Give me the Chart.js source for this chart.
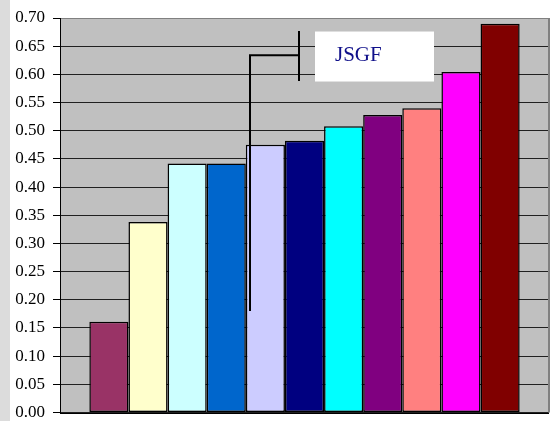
<!DOCTYPE html>
<html>
<head>
<meta charset="utf-8">
<script src="https://cdn.jsdelivr.net/npm/chart.js@4/dist/chart.umd.min.js"></script>
<style>
  html, body { margin: 0; padding: 0; background: #ffffff; }
  #wrap { position: relative; width: 551px; height: 421px; }
  #strip { position: absolute; left: 0; top: 0; width: 10px; height: 421px; background: #dcdcdc; }
  canvas { position: absolute; left: 0; top: 0; }
</style>
</head>
<body>
<div id="wrap">
  <div id="strip"></div>
  <canvas id="c" width="551" height="421"></canvas>
</div>
<script>
// One category, eleven series drawn side by side
const categories = [''];
const seriesNames = ['S1', 'S2', 'S3', 'S4', 'S5', 'S6', 'S7', 'S8', 'S9', 'S10', 'S11'];
const seriesValues = [0.161, 0.338, 0.442, 0.442, 0.475, 0.482, 0.508, 0.528, 0.540, 0.604, 0.690];
const seriesColors = ['#993366', '#FFFFCC', '#CCFFFF', '#0066CC', '#CCCCFF', '#000080',
                      '#00FFFF', '#800080', '#FF8080', '#FF00FF', '#800000'];
const yTicks = { min: 0, max: 0.70, step: 0.05 };
const calloutText = 'JSGF';

const SERIF = "'Liberation Serif', 'Times New Roman', serif";
Chart.defaults.font.family = SERIF;
Chart.defaults.font.size = 17;
Chart.defaults.color = '#000000';

const datasets = seriesNames.map((name, i) => ({
  label: name,
  data: [seriesValues[i]],
  backgroundColor: seriesColors[i],
  borderColor: '#000000',
  borderWidth: 1.5,
  borderSkipped: false,
  categoryPercentage: 11 / 12.5,
  barPercentage: 1.0
}));

// Grey plot area plus its frame
const plotBackground = {
  id: 'plotBackground',
  beforeDraw(chart) {
    const { ctx, chartArea: a } = chart;
    ctx.save();
    ctx.fillStyle = '#C0C0C0';
    ctx.fillRect(a.left, a.top, a.right - a.left, a.bottom - a.top);
    ctx.restore();
  },
  afterDraw(chart) {
    const { ctx, chartArea: a } = chart;
    ctx.save();
    ctx.strokeStyle = '#808080';
    ctx.lineWidth = 2;
    ctx.beginPath();
    ctx.moveTo(a.right, a.top);
    ctx.lineTo(a.right, a.bottom);
    ctx.stroke();
    ctx.strokeStyle = '#000000';
    ctx.lineWidth = 1;
    ctx.beginPath();
    ctx.moveTo(a.left, Math.round(a.bottom) + 0.5);
    ctx.lineTo(a.right, Math.round(a.bottom) + 0.5);
    ctx.stroke();
    ctx.restore();
  }
};

// Bracket and label box placed over the bars
const callout = {
  id: 'callout',
  afterDatasetsDraw(chart) {
    const { ctx, chartArea: a } = chart;
    const y = chart.scales.y;
    const x0 = a.left + 190, x1 = a.left + 239;
    const yMid = y.getPixelForValue(0.634);
    ctx.save();
    ctx.strokeStyle = '#000000';
    ctx.lineWidth = 2;
    ctx.beginPath();
    ctx.moveTo(x0, y.getPixelForValue(0.180));
    ctx.lineTo(x0, yMid);
    ctx.lineTo(x1, yMid);
    ctx.moveTo(x1, y.getPixelForValue(0.677));
    ctx.lineTo(x1, y.getPixelForValue(0.588));
    ctx.stroke();

    const bx = a.left + 255, by = y.getPixelForValue(0.676);
    const bw = 119, bh = 50;
    ctx.fillStyle = '#ffffff';
    ctx.fillRect(bx, by, bw, bh);
    ctx.fillStyle = '#10108a';
    ctx.font = '21px ' + SERIF;
    ctx.textBaseline = 'alphabetic';
    ctx.fillText(calloutText, bx + 20, by + 29);
    ctx.restore();
  }
};

new Chart(document.getElementById('c'), {
  type: 'bar',
  data: { labels: categories, datasets },
  options: {
    responsive: false,
    animation: false,
    layout: { padding: { top: 18, right: 2, bottom: 8.5, left: 0 } },
    plugins: { legend: { display: false }, tooltip: { enabled: false } },
    scales: {
      x: {
        display: false
      },
      y: {
        min: yTicks.min,
        max: yTicks.max,
        ticks: {
          stepSize: yTicks.step,
          color: '#000000',
          padding: 8,
          font: { family: SERIF, size: 17 },
          callback: v => Number(v).toFixed(2)
        },
        grid: {
          color: c => (c.tick && Math.abs(c.tick.value - yTicks.max) < 1e-9) ? '#808080' : '#202020',
          lineWidth: 1,
          tickLength: 7,
          tickColor: '#000000'
        },
        border: { display: true, color: '#000000', width: 1 },
        afterFit(scale) {
          scale.width = 60;
          scale.paddingTop = 0;
          scale.paddingBottom = 0;
        }
      }
    }
  },
  plugins: [plotBackground, callout]
});
</script>
</body>
</html>
